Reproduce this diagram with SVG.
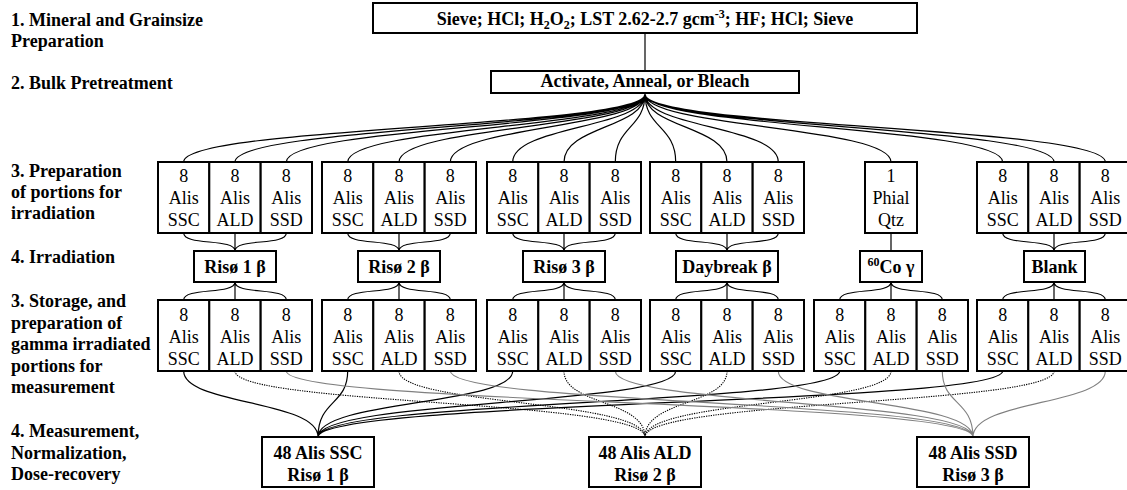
<svg xmlns="http://www.w3.org/2000/svg" width="1127" height="490" viewBox="0 0 1127 490">
<style>
.bx{fill:#fff;stroke:#000;stroke-width:2}
.t{font-family:"Liberation Serif",serif;font-size:18px;text-anchor:middle;fill:#000}
.b{font-weight:bold}
.lbl{font-family:"Liberation Serif",serif;font-size:18px;font-weight:bold;fill:#000}
.c{fill:none;stroke:#000;stroke-width:1.2}
.ald{fill:none;stroke:#000;stroke-width:1.1;stroke-dasharray:1.3 1.1}
.ssd{fill:none;stroke:#808080;stroke-width:1.1}
</style>
<rect width="1127" height="490" fill="#fff"/>
<g id="labels">
<text class="lbl" x="11" y="26">1. Mineral and Grainsize</text>
<text class="lbl" x="11" y="47">Preparation</text>
<text class="lbl" x="11" y="89">2. Bulk Pretreatment</text>
<text class="lbl" x="11" y="177">3. Preparation</text>
<text class="lbl" x="11" y="198">of portions for</text>
<text class="lbl" x="11" y="219">irradiation</text>
<text class="lbl" x="11" y="263">4. Irradiation</text>
<text class="lbl" x="11" y="307">3. Storage, and</text>
<text class="lbl" x="11" y="328.5">preparation of</text>
<text class="lbl" x="11" y="350">gamma irradiated</text>
<text class="lbl" x="11" y="371.5">portions for</text>
<text class="lbl" x="11" y="393">measurement</text>
<text class="lbl" x="11" y="437">4. Measurement,</text>
<text class="lbl" x="11" y="458.5">Normalization,</text>
<text class="lbl" x="11" y="480">Dose-recovery</text>
</g>
<g id="connectors">
<path class="c" d="M645,33V71"/>
<path class="c" d="M645,94C645,128 183.7,126 183.7,162M645,94C645,128 235,126 235,162M645,94C645,128 286.3,126 286.3,162M645,94C645,128 347.7,126 347.7,162M645,94C645,128 399,126 399,162M645,94C645,128 450.3,126 450.3,162M645,94C645,128 512.7,126 512.7,162M645,94C645,128 564,126 564,162M645,94C645,128 615.3,126 615.3,162M645,94C645,128 675.7,126 675.7,162M645,94C645,128 727,126 727,162M645,94C645,128 778.3,126 778.3,162M645,94C645,128 891,126 891,162M645,94C645,128 1002.7,126 1002.7,162M645,94C645,128 1054,126 1054,162M645,94C645,128 1105.3,126 1105.3,162"/>
<path class="c" d="M183.7,233C183.7,246 235,238 235,251M235,233V251M286.3,233C286.3,246 235,238 235,251M347.7,233C347.7,246 399,238 399,251M399,233V251M450.3,233C450.3,246 399,238 399,251M512.7,233C512.7,246 564,238 564,251M564,233V251M615.3,233C615.3,246 564,238 564,251M675.7,233C675.7,246 727,238 727,251M727,233V251M778.3,233C778.3,246 727,238 727,251M891,233V251M1002.7,233C1002.7,246 1054,238 1054,251M1054,233V251M1105.3,233C1105.3,246 1054,238 1054,251"/>
<path class="c" d="M235,282C235,295 183.7,287 183.7,300M235,282V300M235,282C235,295 286.3,287 286.3,300M399,282C399,295 347.7,287 347.7,300M399,282V300M399,282C399,295 450.3,287 450.3,300M564,282C564,295 512.7,287 512.7,300M564,282V300M564,282C564,295 615.3,287 615.3,300M727,282C727,295 675.7,287 675.7,300M727,282V300M727,282C727,295 778.3,287 778.3,300M891,282C891,295 839.7,287 839.7,300M891,282V300M891,282C891,295 942.3,287 942.3,300M1054,282C1054,295 1002.7,287 1002.7,300M1054,282V300M1054,282C1054,295 1105.3,287 1105.3,300"/>
<path class="c" d="M183.7,371C183.7,405 318,400 318,437M347.7,371C347.7,405 318,400 318,437M512.7,371C512.7,405 318,400 318,437M675.7,371C675.7,405 318,400 318,437M839.7,371C839.7,405 318,400 318,437M1002.7,371C1002.7,405 318,400 318,437"/>
<path class="ald" d="M235,371C235,405 645,400 645,437M399,371C399,405 645,400 645,437M564,371C564,405 645,400 645,437M727,371C727,405 645,400 645,437M891,371C891,405 645,400 645,437M1054,371C1054,405 645,400 645,437"/>
<path class="ssd" d="M286.3,371C286.3,405 973,400 973,437M450.3,371C450.3,405 973,400 973,437M615.3,371C615.3,405 973,400 973,437M778.3,371C778.3,405 973,400 973,437M942.3,371C942.3,405 973,400 973,437M1105.3,371C1105.3,405 973,400 973,437"/>
</g>
<g id="n-top"><rect class="bx" x="373" y="3" width="544" height="30"/><text class="t b" x="645" y="25">Sieve; HCl; H<tspan font-size="12" dy="4">2</tspan><tspan dy="-4">O</tspan><tspan font-size="12" dy="4">2</tspan><tspan dy="-4">; LST 2.62-2.7 gcm</tspan><tspan font-size="12" dy="-7">-3</tspan><tspan dy="7">; HF; HCl; Sieve</tspan></text></g>
<g id="n-pretreat"><rect class="bx" x="491" y="71" width="308" height="22"/><text class="t b" x="645" y="87">Activate, Anneal, or Bleach</text></g>
<g id="n-p1-ssc"><rect class="bx" x="158" y="162" width="51.3" height="71"/><text class="t" x="183.7" y="182">8<tspan x="183.7" dy="22">Alis</tspan><tspan x="183.7" dy="22">SSC</tspan></text></g>
<g id="n-p1-ald"><rect class="bx" x="209.3" y="162" width="51.3" height="71"/><text class="t" x="235" y="182">8<tspan x="235" dy="22">Alis</tspan><tspan x="235" dy="22">ALD</tspan></text></g>
<g id="n-p1-ssd"><rect class="bx" x="260.7" y="162" width="51.3" height="71"/><text class="t" x="286.3" y="182">8<tspan x="286.3" dy="22">Alis</tspan><tspan x="286.3" dy="22">SSD</tspan></text></g>
<g id="n-p2-ssc"><rect class="bx" x="322" y="162" width="51.3" height="71"/><text class="t" x="347.7" y="182">8<tspan x="347.7" dy="22">Alis</tspan><tspan x="347.7" dy="22">SSC</tspan></text></g>
<g id="n-p2-ald"><rect class="bx" x="373.3" y="162" width="51.3" height="71"/><text class="t" x="399" y="182">8<tspan x="399" dy="22">Alis</tspan><tspan x="399" dy="22">ALD</tspan></text></g>
<g id="n-p2-ssd"><rect class="bx" x="424.7" y="162" width="51.3" height="71"/><text class="t" x="450.3" y="182">8<tspan x="450.3" dy="22">Alis</tspan><tspan x="450.3" dy="22">SSD</tspan></text></g>
<g id="n-p3-ssc"><rect class="bx" x="487" y="162" width="51.3" height="71"/><text class="t" x="512.7" y="182">8<tspan x="512.7" dy="22">Alis</tspan><tspan x="512.7" dy="22">SSC</tspan></text></g>
<g id="n-p3-ald"><rect class="bx" x="538.3" y="162" width="51.3" height="71"/><text class="t" x="564" y="182">8<tspan x="564" dy="22">Alis</tspan><tspan x="564" dy="22">ALD</tspan></text></g>
<g id="n-p3-ssd"><rect class="bx" x="589.7" y="162" width="51.3" height="71"/><text class="t" x="615.3" y="182">8<tspan x="615.3" dy="22">Alis</tspan><tspan x="615.3" dy="22">SSD</tspan></text></g>
<g id="n-p4-ssc"><rect class="bx" x="650" y="162" width="51.3" height="71"/><text class="t" x="675.7" y="182">8<tspan x="675.7" dy="22">Alis</tspan><tspan x="675.7" dy="22">SSC</tspan></text></g>
<g id="n-p4-ald"><rect class="bx" x="701.3" y="162" width="51.3" height="71"/><text class="t" x="727" y="182">8<tspan x="727" dy="22">Alis</tspan><tspan x="727" dy="22">ALD</tspan></text></g>
<g id="n-p4-ssd"><rect class="bx" x="752.7" y="162" width="51.3" height="71"/><text class="t" x="778.3" y="182">8<tspan x="778.3" dy="22">Alis</tspan><tspan x="778.3" dy="22">SSD</tspan></text></g>
<g id="n-p5-phial"><rect class="bx" x="865" y="162" width="52" height="71"/><text class="t" x="891" y="182">1<tspan x="891" dy="22">Phial</tspan><tspan x="891" dy="22">Qtz</tspan></text></g>
<g id="n-p6-ssc"><rect class="bx" x="977" y="162" width="51.3" height="71"/><text class="t" x="1002.7" y="182">8<tspan x="1002.7" dy="22">Alis</tspan><tspan x="1002.7" dy="22">SSC</tspan></text></g>
<g id="n-p6-ald"><rect class="bx" x="1028.3" y="162" width="51.3" height="71"/><text class="t" x="1054" y="182">8<tspan x="1054" dy="22">Alis</tspan><tspan x="1054" dy="22">ALD</tspan></text></g>
<g id="n-p6-ssd"><rect class="bx" x="1079.7" y="162" width="51.3" height="71"/><text class="t" x="1105.3" y="182">8<tspan x="1105.3" dy="22">Alis</tspan><tspan x="1105.3" dy="22">SSD</tspan></text></g>
<g id="n-riso1"><rect class="bx" x="194" y="251" width="82" height="31"/><text class="t b" x="235" y="273">Risø 1 β</text></g>
<g id="n-riso2"><rect class="bx" x="358" y="251" width="82" height="31"/><text class="t b" x="399" y="273">Risø 2 β</text></g>
<g id="n-riso3"><rect class="bx" x="523" y="251" width="82" height="31"/><text class="t b" x="564" y="273">Risø 3 β</text></g>
<g id="n-daybreak"><rect class="bx" x="676" y="251" width="102" height="31"/><text class="t b" x="727" y="273">Daybreak β</text></g>
<g id="n-co60"><rect class="bx" x="860" y="251" width="62" height="31"/><text class="t b" x="891" y="273"><tspan font-size="12" dy="-7">60</tspan><tspan dy="7">Co γ</tspan></text></g>
<g id="n-blank"><rect class="bx" x="1024" y="251" width="61" height="31"/><text class="t b" x="1054.5" y="273">Blank</text></g>
<g id="n-s1-ssc"><rect class="bx" x="158" y="300" width="51.3" height="71"/><text class="t" x="183.7" y="321">8<tspan x="183.7" dy="22">Alis</tspan><tspan x="183.7" dy="22">SSC</tspan></text></g>
<g id="n-s1-ald"><rect class="bx" x="209.3" y="300" width="51.3" height="71"/><text class="t" x="235" y="321">8<tspan x="235" dy="22">Alis</tspan><tspan x="235" dy="22">ALD</tspan></text></g>
<g id="n-s1-ssd"><rect class="bx" x="260.7" y="300" width="51.3" height="71"/><text class="t" x="286.3" y="321">8<tspan x="286.3" dy="22">Alis</tspan><tspan x="286.3" dy="22">SSD</tspan></text></g>
<g id="n-s2-ssc"><rect class="bx" x="322" y="300" width="51.3" height="71"/><text class="t" x="347.7" y="321">8<tspan x="347.7" dy="22">Alis</tspan><tspan x="347.7" dy="22">SSC</tspan></text></g>
<g id="n-s2-ald"><rect class="bx" x="373.3" y="300" width="51.3" height="71"/><text class="t" x="399" y="321">8<tspan x="399" dy="22">Alis</tspan><tspan x="399" dy="22">ALD</tspan></text></g>
<g id="n-s2-ssd"><rect class="bx" x="424.7" y="300" width="51.3" height="71"/><text class="t" x="450.3" y="321">8<tspan x="450.3" dy="22">Alis</tspan><tspan x="450.3" dy="22">SSD</tspan></text></g>
<g id="n-s3-ssc"><rect class="bx" x="487" y="300" width="51.3" height="71"/><text class="t" x="512.7" y="321">8<tspan x="512.7" dy="22">Alis</tspan><tspan x="512.7" dy="22">SSC</tspan></text></g>
<g id="n-s3-ald"><rect class="bx" x="538.3" y="300" width="51.3" height="71"/><text class="t" x="564" y="321">8<tspan x="564" dy="22">Alis</tspan><tspan x="564" dy="22">ALD</tspan></text></g>
<g id="n-s3-ssd"><rect class="bx" x="589.7" y="300" width="51.3" height="71"/><text class="t" x="615.3" y="321">8<tspan x="615.3" dy="22">Alis</tspan><tspan x="615.3" dy="22">SSD</tspan></text></g>
<g id="n-s4-ssc"><rect class="bx" x="650" y="300" width="51.3" height="71"/><text class="t" x="675.7" y="321">8<tspan x="675.7" dy="22">Alis</tspan><tspan x="675.7" dy="22">SSC</tspan></text></g>
<g id="n-s4-ald"><rect class="bx" x="701.3" y="300" width="51.3" height="71"/><text class="t" x="727" y="321">8<tspan x="727" dy="22">Alis</tspan><tspan x="727" dy="22">ALD</tspan></text></g>
<g id="n-s4-ssd"><rect class="bx" x="752.7" y="300" width="51.3" height="71"/><text class="t" x="778.3" y="321">8<tspan x="778.3" dy="22">Alis</tspan><tspan x="778.3" dy="22">SSD</tspan></text></g>
<g id="n-s5-ssc"><rect class="bx" x="814" y="300" width="51.3" height="71"/><text class="t" x="839.7" y="321">8<tspan x="839.7" dy="22">Alis</tspan><tspan x="839.7" dy="22">SSC</tspan></text></g>
<g id="n-s5-ald"><rect class="bx" x="865.3" y="300" width="51.3" height="71"/><text class="t" x="891" y="321">8<tspan x="891" dy="22">Alis</tspan><tspan x="891" dy="22">ALD</tspan></text></g>
<g id="n-s5-ssd"><rect class="bx" x="916.7" y="300" width="51.3" height="71"/><text class="t" x="942.3" y="321">8<tspan x="942.3" dy="22">Alis</tspan><tspan x="942.3" dy="22">SSD</tspan></text></g>
<g id="n-s6-ssc"><rect class="bx" x="977" y="300" width="51.3" height="71"/><text class="t" x="1002.7" y="321">8<tspan x="1002.7" dy="22">Alis</tspan><tspan x="1002.7" dy="22">SSC</tspan></text></g>
<g id="n-s6-ald"><rect class="bx" x="1028.3" y="300" width="51.3" height="71"/><text class="t" x="1054" y="321">8<tspan x="1054" dy="22">Alis</tspan><tspan x="1054" dy="22">ALD</tspan></text></g>
<g id="n-s6-ssd"><rect class="bx" x="1079.7" y="300" width="51.3" height="71"/><text class="t" x="1105.3" y="321">8<tspan x="1105.3" dy="22">Alis</tspan><tspan x="1105.3" dy="22">SSD</tspan></text></g>
<g id="n-m-ssc"><rect class="bx" x="262" y="437" width="112" height="50"/><text class="t b" x="318" y="459">48 Alis SSC<tspan x="318" dy="21.5">Risø 1 β</tspan></text></g>
<g id="n-m-ald"><rect class="bx" x="589" y="437" width="112" height="50"/><text class="t b" x="645" y="459">48 Alis ALD<tspan x="645" dy="21.5">Risø 2 β</tspan></text></g>
<g id="n-m-ssd"><rect class="bx" x="917" y="437" width="112" height="50"/><text class="t b" x="973" y="459">48 Alis SSD<tspan x="973" dy="21.5">Risø 3 β</tspan></text></g>
</svg>
